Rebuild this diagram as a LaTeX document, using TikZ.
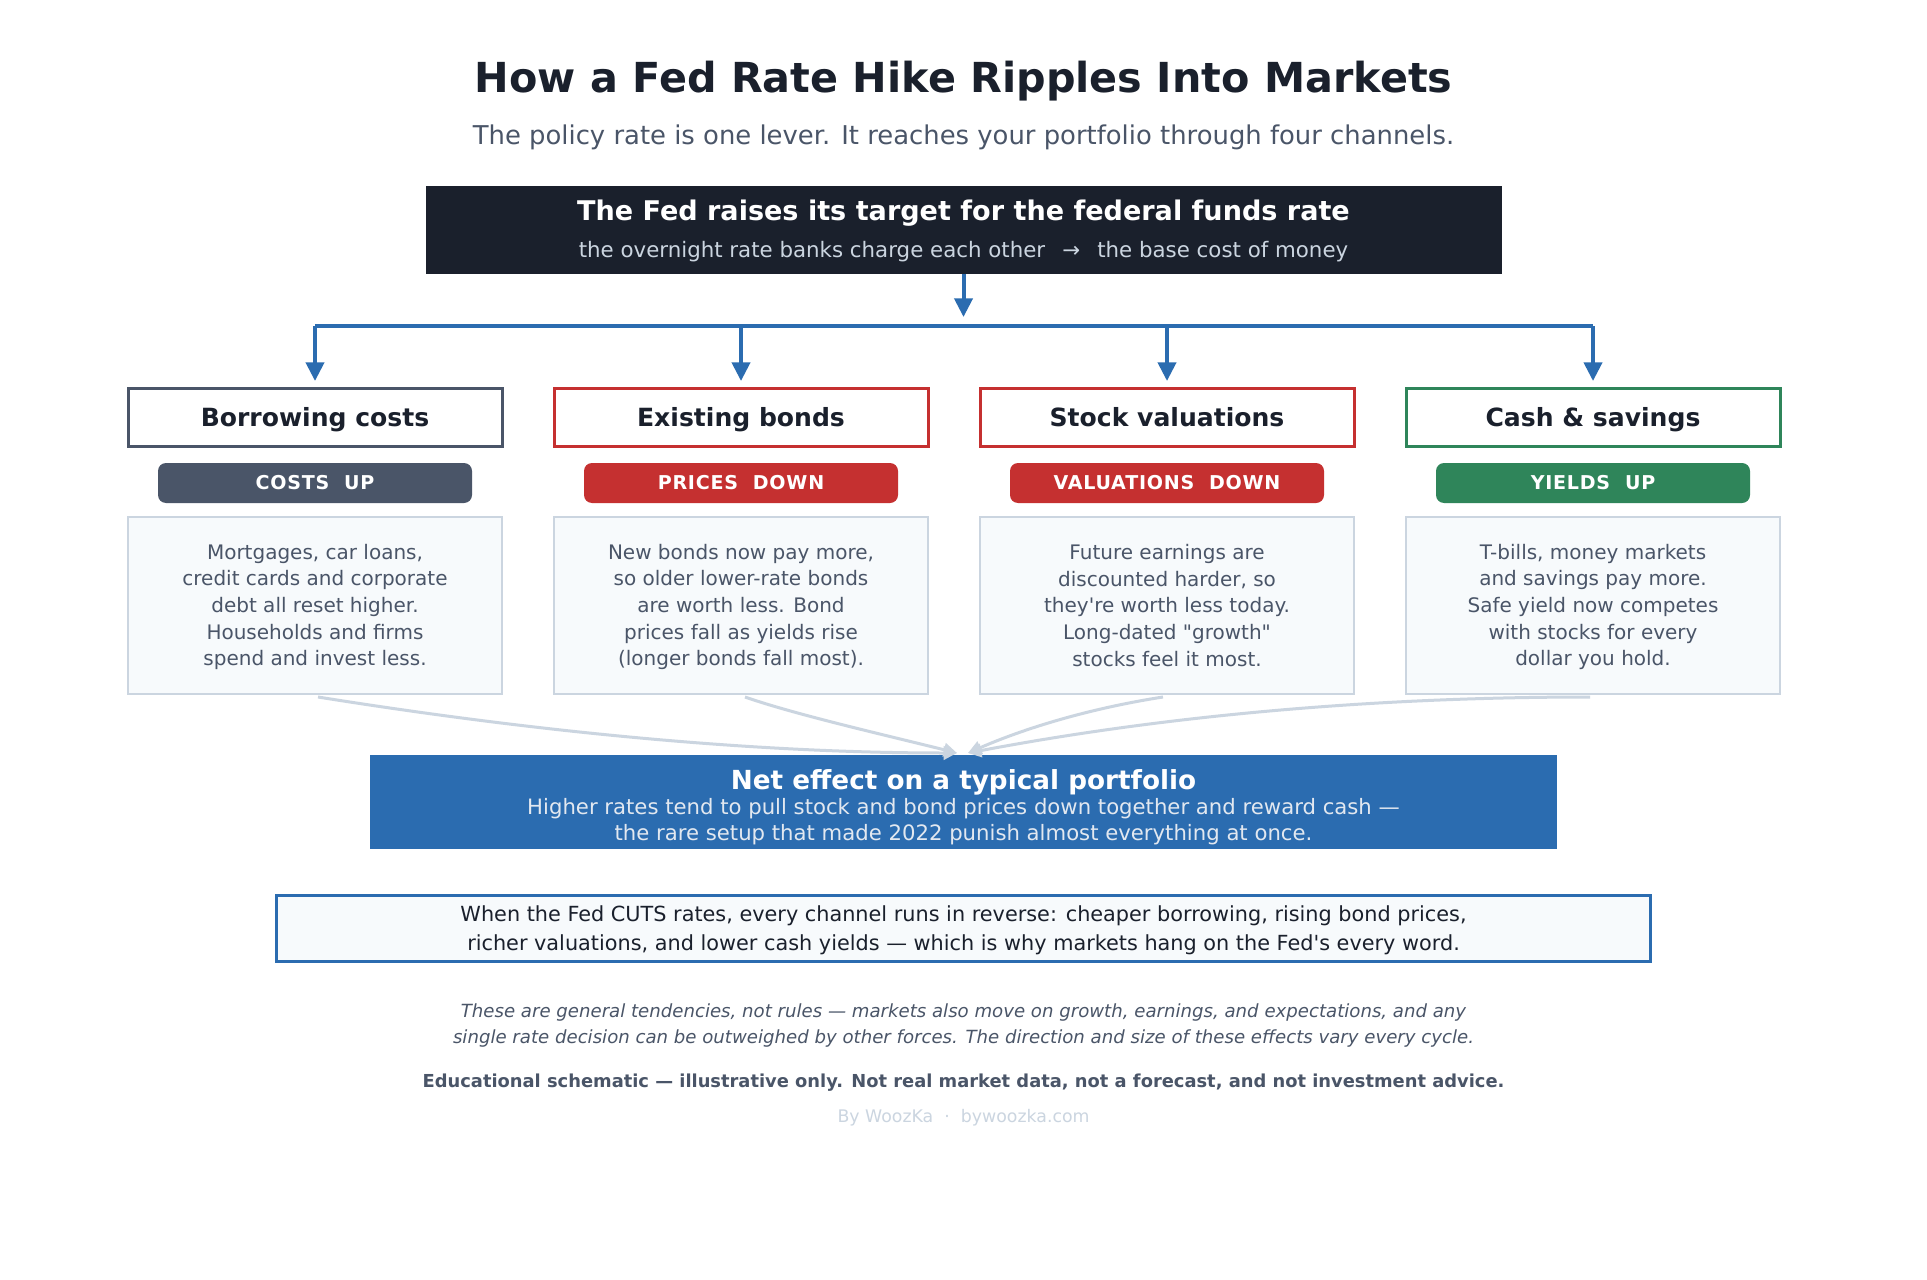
\documentclass[tikz,border=0pt]{standalone}
\usepackage{fontspec}
\setmainfont{DejaVu Sans}[Ligatures=TeXOff]
\usetikzlibrary{arrows.meta,calc}
\definecolor{ink}{HTML}{1A202C}
\definecolor{slate}{HTML}{4A5568}
\definecolor{blue1}{HTML}{2B6CB0}
\definecolor{red1}{HTML}{C53030}
\definecolor{green1}{HTML}{2F855A}
\definecolor{edge}{HTML}{CBD5E0}
\definecolor{paper}{HTML}{F7FAFC}
\definecolor{pale}{HTML}{E2E8F0}
\begin{document}
\begin{tikzpicture}[x=0.75pt,y=-0.75pt,
  every node/.style={inner sep=0pt, outer sep=0pt},
  hdr/.style={draw, line width=2.25pt, fill=white, minimum width=280.5pt, minimum height=43.5pt, text height=13.7pt, text depth=0pt, font=\fontsize{18.8pt}{22pt}\selectfont\bfseries, text=ink},
  pill/.style={rounded corners=6pt, minimum width=235.5pt, minimum height=30pt, text=white, font=\fontsize{14.3pt}{16pt}\selectfont\bfseries\addfontfeature{LetterSpace=4}},
  desc/.style={draw=edge, line width=1.5pt, fill=paper, minimum width=280.5pt, minimum height=132.75pt},
  desctext/.style={align=center, text=slate, font=\fontsize{15pt}{19.9pt}\selectfont},
  flow/.style={draw=blue1, line width=3pt},
  flowarr/.style={flow, -{Triangle[width=13.5pt,length=14pt]}},
  merge/.style={draw=edge, line width=2.25pt, -{Triangle[width=10pt,length=10pt]}},
]
\useasboundingbox (0,0) rectangle (1927,1280);
\fill[white] (0,0) rectangle (1927,1280);

% title
\node[text=ink, font=\fontsize{31pt}{37pt}\selectfont\bfseries] (title) at (963.5,81.5) {How a Fed Rate Hike Ripples Into Markets};
\node[text=slate, font=\fontsize{19.4pt}{23pt}\selectfont] (subtitle) at (963.5,137.5) {The policy rate is one lever. It reaches your portfolio through four channels.};

% top box
\node[fill=ink, minimum width=807pt, minimum height=66pt] (fed) at (963.5,230) {};
\node[text=white, font=\fontsize{20.3pt}{24pt}\selectfont\bfseries] (fedt) at (963.5,213.5) {The Fed raises its target for the federal funds rate};
\node[text=edge, font=\fontsize{16pt}{19pt}\selectfont] (feds) at (963.5,252) {the overnight rate banks charge each other \ \,→\ \, the base cost of money};

% headers
\node[hdr, draw=slate]  (h1) at (315,417)  {Borrowing costs};
\node[hdr, draw=red1]   (h2) at (741,417)  {Existing bonds};
\node[hdr, draw=red1]   (h3) at (1167,417) {Stock valuations};
\node[hdr, draw=green1] (h4) at (1593,417) {Cash \& savings};

% pills
\node[pill, fill=slate]  (p1) at (315,483)  {COSTS\ \ UP};
\node[pill, fill=red1]   (p2) at (741,483)  {PRICES\ \ DOWN};
\node[pill, fill=red1]   (p3) at (1167,483) {VALUATIONS\ \ DOWN};
\node[pill, fill=green1] (p4) at (1593,483) {YIELDS\ \ UP};

% descriptions
\node[desc] (d1) at (315,605.5) {};
\node[desc] (d2) at (741,605.5) {};
\node[desc] (d3) at (1167,605.5) {};
\node[desc] (d4) at (1593,605.5) {};
\node[desctext] (d1t) at (315,607) {Mortgages, car loans,\\credit cards and corporate\\debt all reset higher.\\Households and firms\\spend and invest less.};
\node[desctext] (d2t) at (741,607) {New bonds now pay more,\\so older lower-rate bonds\\are worth less. Bond\\prices fall as yields rise\\(longer bonds fall most).};
\node[desctext] (d3t) at (1167,605.5) {Future earnings are\\discounted harder, so\\they're worth less today.\\Long-dated "growth"\\stocks feel it most.};
\node[desctext] (d4t) at (1593,607) {T-bills, money markets\\and savings pay more.\\Safe yield now competes\\with stocks for every\\dollar you hold.};

% top connectors
\coordinate (bus) at (963.5,326);
\coordinate (tipy) at (963.5,381);
\draw[flowarr] (fed.south) -- (963.5,317);
\draw[flow] (h1.north |- bus) -- (h4.north |- bus);
\draw[flowarr] (h1.north |- bus) -- (h1.north |- tipy);
\draw[flowarr] (h2.north |- bus) -- (h2.north |- tipy);
\draw[flowarr] (h3.north |- bus) -- (h3.north |- tipy);
\draw[flowarr] (h4.north |- bus) -- (h4.north |- tipy);

% net effect box
\node[fill=blue1, minimum width=890pt, minimum height=70.5pt] (net) at (963.5,802) {};
\node[text=white, font=\fontsize{19.7pt}{23pt}\selectfont\bfseries] (nett) at (963.5,782) {Net effect on a typical portfolio};
\node[text=pale, align=center, font=\fontsize{15.9pt}{19.5pt}\selectfont] (nets) at (963.5,822) {Higher rates tend to pull stock and bond prices down together and reward cash —\\the rare setup that made 2022 punish almost everything at once.};

% merge connectors
\coordinate (netL) at (957,753);
\coordinate (netR) at (968,753);
\draw[merge] ([shift={(3,3)}]d1.south) .. controls (551.3,734.3) and (764.3,753) .. (netL);
\draw[merge] ([shift={(4,3)}]d2.south) .. controls (795,714.5) and (885,735) .. (netL);
\draw[merge] ([shift={(-4,3)}]d3.south) .. controls (1094.3,707.7) and (1029.3,726.3) .. (netR);
\draw[merge] ([shift={(-3,3)}]d4.south) .. controls (1372,697) and (1164.7,715.7) .. (netR);

% note box
\node[draw=blue1, line width=2.25pt, fill=paper, minimum width=1030pt, minimum height=50pt] (note) at (963.5,928.5) {};
\node[align=center, text=ink, font=\fontsize{15.6pt}{21.75pt}\selectfont] (notet) at (963.5,930) {When the Fed CUTS rates, every channel runs in reverse: cheaper borrowing, rising bond prices,\\richer valuations, and lower cash yields — which is why markets hang on the Fed's every word.};

% footer
\node[text=slate, align=center, font=\fontsize{13.6pt}{19.5pt}\selectfont\itshape] (caveat) at (963.5,1025.5) {These are general tendencies, not rules — markets also move on growth, earnings, and expectations, and any\\single rate decision can be outweighed by other forces. The direction and size of these effects vary every cycle.};
\node[text=slate, font=\fontsize{13.4pt}{16pt}\selectfont\bfseries] (disc) at (963.5,1082.5) {Educational schematic — illustrative only. Not real market data, not a forecast, and not investment advice.};
\node[text=edge, font=\fontsize{13pt}{15pt}\selectfont] (credit) at (963.5,1117.5) {By WoozKa \ ·\ \ bywoozka.com};
\end{tikzpicture}
\end{document}
